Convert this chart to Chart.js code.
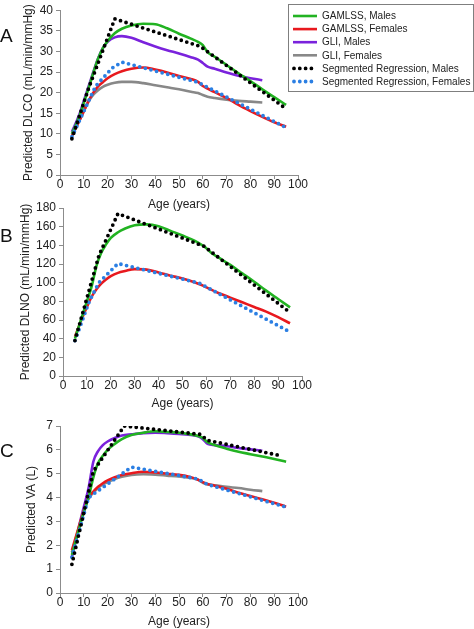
<!DOCTYPE html>
<html>
<head>
<meta charset="utf-8">
<script src="https://cdn.jsdelivr.net/npm/chart.js@4.4.1/dist/chart.umd.min.js"></script>
<style>
  html, body { margin: 0; padding: 0; background: #fff; }
  body { width: 474px; height: 629px; position: relative; overflow: hidden; font-family: 'Liberation Sans', Arial, sans-serif; }
  canvas { position: absolute; left: 0; }
  .letter { position: absolute; left: 0; font-size: 19px; line-height: 19px; color: #111; }
</style>
</head>
<body>
<canvas id="dlco" width="474" height="212" style="top:0"></canvas>
<canvas id="dlno" width="474" height="218" style="top:196px"></canvas>
<canvas id="va" width="474" height="215" style="top:414px"></canvas>
<div class="letter" style="top:25.6px">A</div>
<div class="letter" style="top:225.6px">B</div>
<div class="letter" style="top:440.6px">C</div>

<script>
// age grid shared by the GAMLSS / GLI curves (GLI stops at 85)
const ages = [5, 8, 10, 12, 14, 16, 18, 20, 23, 26, 30, 35, 40, 45, 50, 55, 58, 60, 62, 65, 70, 75, 80, 85, 90, 95];
const xTicks = [0, 10, 20, 30, 40, 50, 60, 70, 80, 90, 100];

const seriesLabels = ['GAMLSS, Males', 'GAMLSS, Females', 'GLI, Males', 'GLI, Females',
                      'Segmented Regression, Males', 'Segmented Regression, Females'];

/* ---------- A: DLCO ---------- */
const dlcoGamlssM = [10, 14, 17.5, 21, 24.8, 28.2, 30.8, 32.5, 34.4, 35.5, 36.3, 36.7, 36.6, 35.6, 34.3, 33.1, 32.3, 31.5, 29.8, 28.7, 26.7, 24.7, 22.8, 20.8, 18.9, 17];
const dlcoGamlssF = [9.5, 13, 15.5, 18, 20, 21.5, 22.5, 23.5, 24.5, 25.2, 25.8, 26.1, 25.6, 24.9, 24, 23.3, 22.6, 21.6, 21, 20.1, 18.7, 17, 15.5, 14.1, 12.8, 11.7];
const dlcoGliM = [10.5, 14.5, 18, 21.5, 25, 28.3, 30.8, 32.3, 33.4, 33.7, 33.3, 32.2, 31.2, 30.3, 29.5, 28.6, 28, 27.2, 26.3, 25.8, 24.9, 24.1, 23.5, 23];
const dlcoGliF = [9.8, 13, 15.5, 17.8, 19.5, 20.6, 21.4, 21.9, 22.4, 22.6, 22.6, 22.3, 21.8, 21.3, 20.8, 20.2, 19.9, 19.4, 19, 18.7, 18.3, 18, 17.8, 17.6];
const dlcoSegMAge = [5, 12, 23, 59, 94];
const dlcoSegM = [8.8, 21, 37.9, 31.2, 16.5];
const dlcoSegFAge = [5, 15, 22, 26, 58, 94];
const dlcoSegF = [9.3, 21.6, 26, 27.4, 22.5, 11.8];

/* ---------- B: DLNO ---------- */
const dlnoGamlssM = [40, 64, 80, 96, 118, 132, 141, 148, 154, 158, 161.5, 162.5, 160.5, 155.5, 150.5, 145, 140.5, 137, 132, 127, 119, 110, 101, 91.5, 82.5, 73.5];
const dlnoGamlssF = [42, 62, 74, 85, 93, 99, 103.5, 107, 110.5, 112.5, 114.5, 114, 111, 107.5, 104.5, 100.5, 97.5, 95, 92.5, 89, 84, 79, 74, 69, 63, 56.5];
const dlnoSegMAge = [5, 15, 23, 59, 94];
const dlnoSegM = [38, 129, 174, 139, 70];
const dlnoSegFAge = [5, 11, 15, 23, 57, 94];
const dlnoSegF = [38, 80, 100, 120.5, 99.5, 48.5];

/* ---------- C: VA ---------- */
const vaGamlssM = [1.6, 2.7, 3.4, 4.0, 4.85, 5.45, 5.75, 6.0, 6.25, 6.45, 6.62, 6.72, 6.78, 6.75, 6.72, 6.65, 6.58, 6.5, 6.32, 6.2, 6.05, 5.92, 5.82, 5.72, 5.62, 5.5];
const vaGamlssF = [1.8, 2.8, 3.45, 4.0, 4.25, 4.45, 4.6, 4.72, 4.85, 4.95, 5.02, 5.08, 5.05, 5.0, 4.95, 4.85, 4.75, 4.65, 4.57, 4.5, 4.37, 4.2, 4.07, 3.93, 3.78, 3.62];
const vaGliM = [1.5, 2.8, 3.6, 4.4, 5.5, 5.95, 6.2, 6.35, 6.5, 6.6, 6.65, 6.7, 6.72, 6.7, 6.67, 6.62, 6.57, 6.45, 6.25, 6.2, 6.15, 6.08, 6.02, 5.96];
const vaGliF = [1.7, 2.75, 3.4, 3.95, 4.2, 4.4, 4.55, 4.65, 4.78, 4.87, 4.95, 4.98, 4.96, 4.92, 4.88, 4.82, 4.75, 4.62, 4.55, 4.52, 4.45, 4.4, 4.33, 4.27];
const vaSegMAge = [5, 14, 27, 59, 62, 93];
const vaSegM = [1.2, 5.1, 7.0, 6.65, 6.4, 5.75];
const vaSegFAge = [5, 12, 30, 58, 62, 95];
const vaSegF = [1.5, 4.0, 5.28, 4.78, 4.55, 3.6];

const COLORS = ['#22b322', '#e8191e', '#7a22dc', '#888888', '#000000', '#2b7fe3'];

Chart.defaults.font.family = "'Liberation Sans', Arial, sans-serif";
Chart.defaults.font.size = 12;
Chart.defaults.color = '#222';

const pts = (xs, ys) => ys.map((y, i) => ({ x: xs[i], y }));

function curve(idx, xs, ys) {
    return {
        label: seriesLabels[idx], data: pts(xs, ys),
        borderColor: COLORS[idx], borderWidth: 2.6,
        showLine: true, pointRadius: 0, cubicInterpolationMode: 'monotone', order: 1
    };
}

function dotted(idx, xs, ys) {
    return {
        label: seriesLabels[idx], data: pts(xs, ys),
        borderColor: COLORS[idx], borderWidth: 3.8,
        borderDash: [0, 5.8], borderCapStyle: 'round',
        showLine: true, pointRadius: 0, tension: 0, order: 0
    };
}

// legend box drawn inside panel A
const legendBox = {
    id: 'legendBox',
    afterDraw(chart) {
        const ctx = chart.ctx;
        ctx.save();
        ctx.strokeStyle = '#7f7f7f';
        ctx.lineWidth = 1;
        ctx.strokeRect(288.5, 4.5, 185, 87);
        chart.data.datasets.forEach((ds, i) => {
            const y = 16 + i * 13.1;
            ctx.beginPath();
            ctx.strokeStyle = ds.borderColor;
            ctx.lineWidth = ds.borderWidth;
            ctx.lineCap = ds.borderDash ? 'round' : 'butt';
            ctx.setLineDash(ds.borderDash || []);
            ctx.moveTo(ds.borderDash ? 294 : 293, y);
            ctx.lineTo(317, y);
            ctx.stroke();
            ctx.setLineDash([]);
            ctx.fillStyle = '#222';
            ctx.font = "10px 'Liberation Sans', Arial, sans-serif";
            ctx.textBaseline = 'middle';
            ctx.fillText(ds.label, 322, y + 0.5);
        });
        ctx.restore();
    }
};

function panelOptions(p) {
    const axisGray = '#8c8c8c';
    return {
        responsive: false,
        animation: false,
        layout: { padding: { left: 0, right: p.right, top: p.top, bottom: 0 } },
        plugins: { legend: { display: false }, tooltip: { enabled: false } },
        scales: {
            x: {
                type: 'linear', min: 0, max: 100,
                afterBuildTicks: (s) => { s.ticks = xTicks.map(v => ({ value: v })); },
                ticks: { padding: -2, maxRotation: 0 },
                grid: { drawOnChartArea: false, tickLength: 4, color: axisGray },
                border: { color: axisGray },
                title: { display: true, text: 'Age (years)', padding: { top: 0, bottom: p.xTitlePad } },
                afterFit: (s) => { s.height = p.xh; }
            },
            y: {
                type: 'linear', min: 0, max: p.yMax,
                ticks: { stepSize: p.yStep, padding: 3 },
                grid: { drawOnChartArea: false, tickLength: 4, color: axisGray },
                border: { color: axisGray },
                title: { display: true, text: p.yTitle, padding: { top: p.yTitlePad, bottom: 0 } },
                afterFit: (s) => { s.width = p.yw; }
            }
        }
    };
}

new Chart(document.getElementById('dlco'), {
    type: 'scatter',
    data: {
        datasets: [
            curve(0, ages, dlcoGamlssM),
            curve(1, ages, dlcoGamlssF),
            curve(2, ages, dlcoGliM),
            curve(3, ages, dlcoGliF),
            dotted(4, dlcoSegMAge, dlcoSegM),
            dotted(5, dlcoSegFAge, dlcoSegF)
        ]
    },
    options: panelOptions({ right: 176, top: 10, yw: 60, xh: 37, xTitlePad: 0, yTitlePad: 21,
                            yMax: 40, yStep: 5, yTitle: 'Predicted DLCO (mL/min/mmHg)' }),
    plugins: [legendBox]
});

new Chart(document.getElementById('dlno'), {
    type: 'scatter',
    data: {
        datasets: [
            curve(0, ages, dlnoGamlssM),
            curve(1, ages, dlnoGamlssF),
            dotted(4, dlnoSegMAge, dlnoSegM),
            dotted(5, dlnoSegFAge, dlnoSegF)
        ]
    },
    options: panelOptions({ right: 172, top: 12, yw: 63, xh: 38, xTitlePad: 3, yTitlePad: 18,
                            yMax: 180, yStep: 20, yTitle: 'Predicted DLNO (mL/min/mmHg)' })
});

new Chart(document.getElementById('va'), {
    type: 'scatter',
    data: {
        datasets: [
            curve(0, ages, vaGamlssM),
            curve(1, ages, vaGamlssF),
            curve(2, ages, vaGliM),
            curve(3, ages, vaGliF),
            dotted(4, vaSegMAge, vaSegM),
            dotted(5, vaSegFAge, vaSegF)
        ]
    },
    options: panelOptions({ right: 176, top: 12, yw: 60, xh: 36, xTitlePad: 0, yTitlePad: 24,
                            yMax: 7, yStep: 1, yTitle: 'Predicted VA (L)' })
});
</script>
</body>
</html>
